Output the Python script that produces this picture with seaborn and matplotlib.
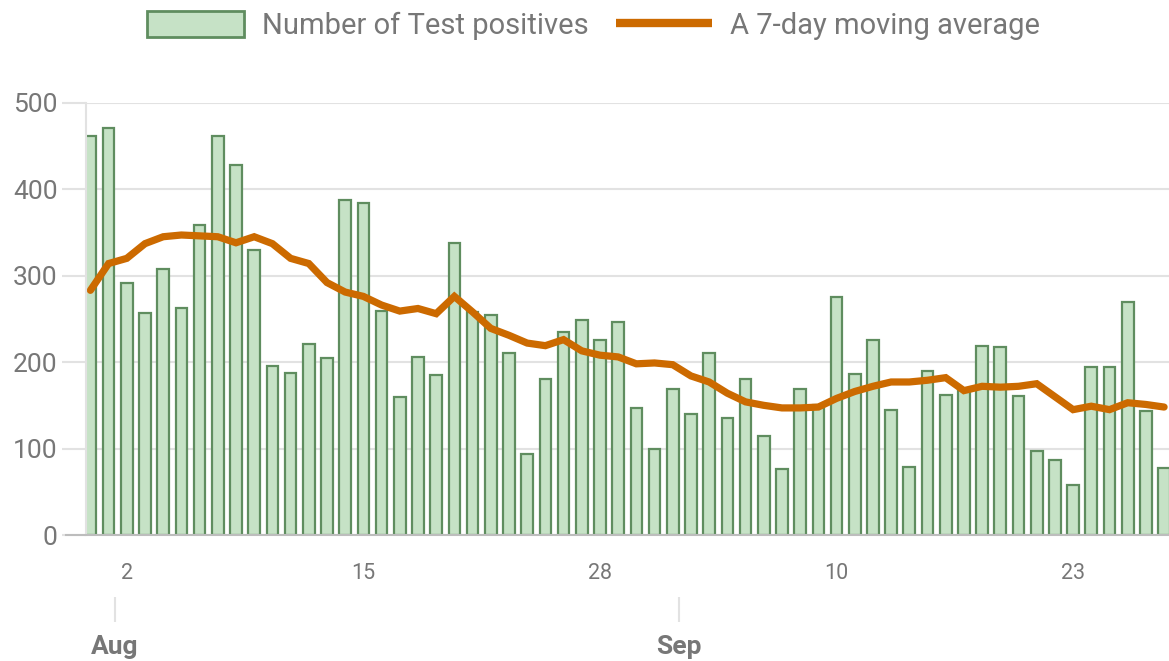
import matplotlib
matplotlib.use("Agg")
import matplotlib.pyplot as plt
from matplotlib.patches import Patch
from matplotlib.lines import Line2D
import numpy as np
import pandas as pd
import seaborn as sns

# daily test positives, Jul 31 .. Sep 28
positives = [462, 471, 291, 257, 308, 262, 359, 461, 428, 330,
             195, 187, 221, 205, 388, 384, 259, 160, 206, 185,
             338, 258, 255, 211, 94, 181, 235, 249, 226, 246,
             147, 99, 169, 140, 210, 135, 180, 115, 76, 169,
             150, 275, 186, 226, 145, 79, 190, 162, 168, 219,
             217, 161, 97, 87, 58, 194, 194, 269, 143, 77]

# 7-day moving average as drawn
moving_avg = [283, 314, 320, 337, 345, 347, 346, 345, 338, 345,
              337, 320, 314, 292, 281, 276, 266, 259, 262, 256,
              276, 258, 239, 231, 222, 219, 226, 213, 208, 206,
              198, 199, 197, 184, 177, 164, 154, 150, 147, 147,
              148, 158, 166, 172, 177, 177, 179, 182, 167, 172,
              171, 172, 175, 160, 145, 149, 145, 153, 151, 148]

start_date = "2020-07-31"
day_ticks = ["2020-08-02", "2020-08-15", "2020-08-28", "2020-09-10", "2020-09-23"]
month_ticks = ["2020-08-01", "2020-09-01"]
month_labels = ["Aug", "Sep"]
y_ticks = [0, 100, 200, 300, 400, 500]

bar_fill = "#c6e2c6"
bar_edge = "#5f8d5f"
line_color = "#cc6a00"
text_gray = "#777777"
grid_gray = "#e2e2e2"

dates = pd.date_range(start_date, periods=len(positives), freq="D")
df = pd.DataFrame({"date": dates.strftime("%Y-%m-%d"),
                   "positives": positives,
                   "avg": moving_avg})
df["pos"] = np.arange(len(df))

sns.set_theme(style="white")
plt.rcParams["font.family"] = ["Roboto", "DejaVu Sans"]

fig = plt.figure(figsize=(11.69, 6.61), dpi=100)
ax = fig.add_axes([0.0736, 0.1906, 0.9264, 0.654])

sns.barplot(data=df, x="date", y="positives", color=bar_fill, saturation=1,
            width=0.64, edgecolor=bar_edge, linewidth=1.6, ax=ax)
sns.lineplot(data=df, x="pos", y="avg", color=line_color, linewidth=5.2,
             solid_joinstyle="miter", ax=ax)

ax.set_xlim(-0.24, len(df) - 0.73)
ax.set_ylim(0, 500)
ax.set_xlabel("")
ax.set_ylabel("")

# y axis
ax.set_yticks(y_ticks)
ax.set_yticklabels([str(v) for v in y_ticks])
ax.yaxis.grid(True, color=grid_gray, linewidth=1.5)
ax.set_axisbelow(True)
ax.tick_params(axis="y", length=17.5, width=1.5, color=grid_gray,
               labelsize=19, labelcolor=text_gray, pad=3, left=True)

# day ticks
lookup = {d: i for i, d in enumerate(df["date"])}
ax.set_xticks([lookup[d] for d in day_ticks])
ax.set_xticklabels([str(int(d[-2:])) for d in day_ticks])
ax.tick_params(axis="x", length=0, labelsize=15.5, labelcolor=text_gray, pad=20)

for side in ["top", "right"]:
    ax.spines[side].set_visible(False)
ax.spines["left"].set_color(grid_gray)
ax.spines["left"].set_linewidth(1.5)
ax.spines["bottom"].set_color("#bdbdbd")
ax.spines["bottom"].set_linewidth(1.5)
ax.spines["bottom"].set_bounds(-1.35, len(df))
ax.spines["bottom"].set_clip_on(False)

# month ticks below the day labels
sec = ax.secondary_xaxis(-0.143)
sec.set_xticks([lookup[d] + 0.35 for d in month_ticks])
sec.set_xticklabels(month_labels, fontweight="bold")
sec.tick_params(axis="x", direction="out", length=18, width=1.5, color=grid_gray,
                labelsize=19, labelcolor=text_gray, pad=9.5)
sec.spines["bottom"].set_visible(False)

handles = [Patch(facecolor=bar_fill, edgecolor=bar_edge, linewidth=2),
           Line2D([0], [0], color=line_color, linewidth=6, solid_capstyle="butt")]
fig.legend(handles, ["Number of Test positives", "A 7-day moving average"],
           loc="upper center", bbox_to_anchor=(0.508, 1.0), ncol=2, frameon=False,
           fontsize=21, labelcolor=text_gray, handlelength=3.32, handleheight=0.96,
           handletextpad=0.62, columnspacing=0.92, borderaxespad=0.24, borderpad=0.15)

fig.savefig("out.png", dpi=100, facecolor="white")
